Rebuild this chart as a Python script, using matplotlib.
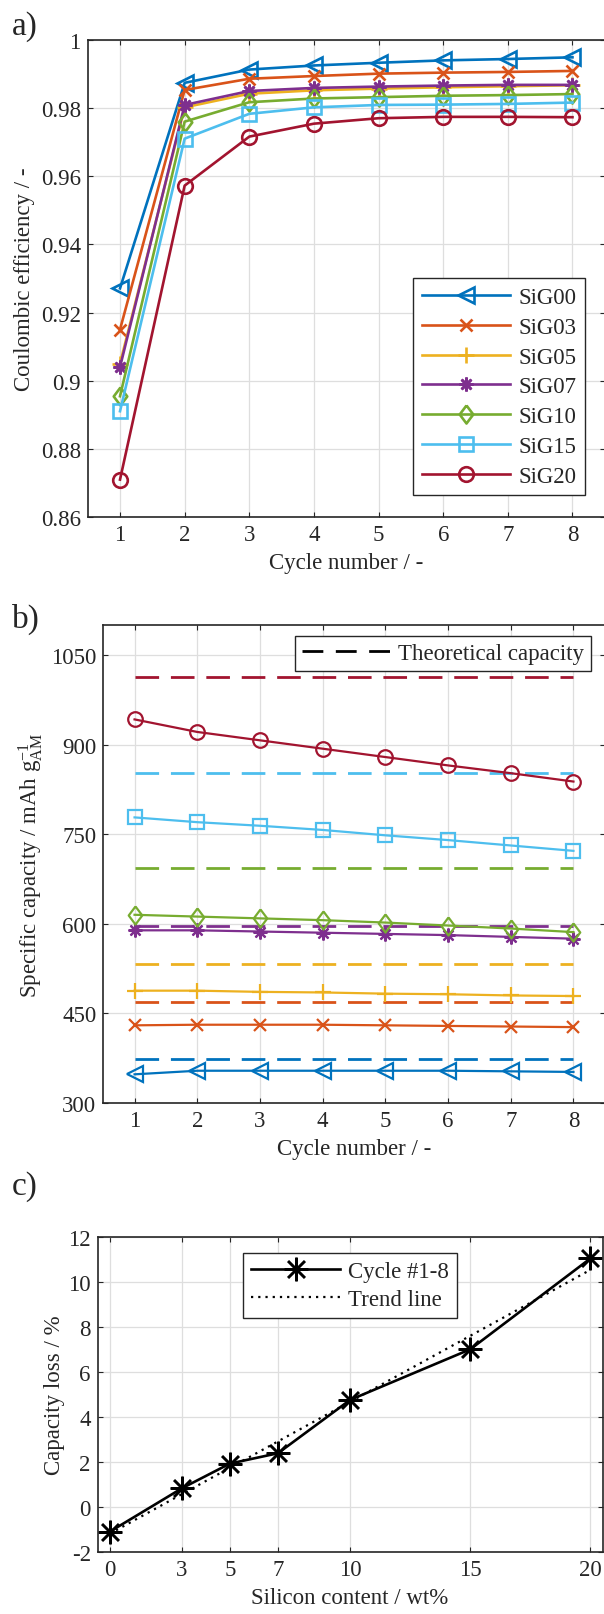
import numpy as np
import matplotlib
matplotlib.use("Agg")
import matplotlib.pyplot as plt

plt.rcParams["font.family"] = ["Liberation Serif", "DejaVu Serif"]
plt.rcParams["mathtext.fontset"] = "custom"
plt.rcParams["mathtext.rm"] = "Liberation Serif"
plt.rcParams["mathtext.it"] = "Liberation Serif:italic"
plt.rcParams["font.size"] = 16.5
plt.rcParams["text.color"] = "#262626"
plt.rcParams["axes.labelcolor"] = "#262626"
plt.rcParams["axes.unicode_minus"] = False
plt.rcParams["lines.scale_dashes"] = False

# data
cycles = [1, 2, 3, 4, 5, 6, 7, 8]
samples = ["SiG00", "SiG03", "SiG05", "SiG07", "SiG10", "SiG15", "SiG20"]

ce_sig00 = [0.9271, 0.9875, 0.9914, 0.9926, 0.9934, 0.9941, 0.9945, 0.9950]
ce_sig03 = [0.9150, 0.9854, 0.9887, 0.9895, 0.9902, 0.9905, 0.9907, 0.9910]
ce_sig05 = [0.9050, 0.9803, 0.9843, 0.9853, 0.9858, 0.9862, 0.9865, 0.9868]
ce_sig07 = [0.9040, 0.9810, 0.9851, 0.9860, 0.9864, 0.9867, 0.9869, 0.9869]
ce_sig10 = [0.8954, 0.9761, 0.9818, 0.9829, 0.9833, 0.9837, 0.9839, 0.9842]
ce_sig15 = [0.8910, 0.9711, 0.9784, 0.9803, 0.9810, 0.9811, 0.9813, 0.9817]
ce_sig20 = [0.8709, 0.9573, 0.9717, 0.9755, 0.9771, 0.9775, 0.9775, 0.9774]

cap_sig00 = [348, 354, 354, 354, 354, 354, 353, 352]
cap_sig03 = [430, 431, 431, 431, 430, 429, 428, 427]
cap_sig05 = [488, 488, 486, 485, 483, 482, 480, 479]
cap_sig07 = [589, 589, 587, 585, 583, 581, 578, 575]
cap_sig10 = [615, 612, 609, 606, 602, 597, 592, 586]
cap_sig15 = [778, 770, 764, 757, 748, 740, 731, 722]
cap_sig20 = [942, 921, 907, 893, 879, 865, 852, 838]
theo_cap = [373, 469, 533, 597, 693, 853, 1013]

si_content = [0, 3, 5, 7, 10, 15, 20]
cap_loss = [-1.10, 0.83, 1.93, 2.39, 4.76, 7.01, 11.05]

ce_all = [ce_sig00, ce_sig03, ce_sig05, ce_sig07, ce_sig10, ce_sig15, ce_sig20]
cap_all = [cap_sig00, cap_sig03, cap_sig05, cap_sig07, cap_sig10, cap_sig15, cap_sig20]

colors = ["#0072BD", "#D95319", "#EDB120", "#7E2F8E", "#77AC30", "#4DBEEE", "#A2142F"]
diamond = [(0, 1), (0.75, 0), (0, -1), (-0.75, 0), (0, 1)]
markers = ["<", "x", "+", (8, 2, 0), diamond, "s", "o"]
msizes = [11.5, 8.5, 12, 10, 13, 9.5, 10.5]

W, H = 604, 1615
fig = plt.figure(figsize=(W / 100, H / 100), dpi=100)


def px_axes(left, top, right, bottom):
    return fig.add_axes([left / W, 1 - bottom / H, (right - left) / W, (bottom - top) / H])


def style(ax):
    ax.grid(True, color="#dedede", lw=0.9)
    ax.set_axisbelow(True)
    for s in ax.spines.values():
        s.set_color("#262626")
        s.set_linewidth(1.2)
    ax.tick_params(direction="in", length=3.6, width=0.8, colors="#262626",
                   top=True, right=True, labelsize=16.5, pad=5)


def legend_style(leg):
    fr = leg.get_frame()
    fr.set_edgecolor("#262626")
    fr.set_linewidth(1.0)
    fr.set_boxstyle("square", pad=0)


# a)
ax1 = px_axes(87.7, 41.3, 604.8, 517.7)
style(ax1)
for name, vals, c, m, ms in zip(samples, ce_all, colors, markers, msizes):
    ax1.plot(cycles, vals, color=c, marker=m, ms=ms, mew=1.9, mfc="none", lw=1.9, label=name)
ax1.set_xlim(0.5, 8.5)
ax1.set_ylim(0.86, 1.0)
ax1.set_xticks(cycles)
ax1.set_yticks([0.86, 0.88, 0.90, 0.92, 0.94, 0.96, 0.98, 1.0])
ax1.set_yticklabels(["0.86", "0.88", "0.9", "0.92", "0.94", "0.96", "0.98", "1"])
ax1.set_xlabel("Cycle number / -", labelpad=5)
ax1.set_ylabel("Coulombic efficiency / -", labelpad=4)
leg1 = ax1.legend(loc="lower right", bbox_to_anchor=(0.962, 0.045), borderaxespad=0,
                  fancybox=False, framealpha=1, handlelength=3.85, handletextpad=0.35,
                  labelspacing=0.38, borderpad=0.38, fontsize=16.5)
legend_style(leg1)

# b)
ax2 = px_axes(103.2, 626, 604.8, 1104)
style(ax2)
for c, tc in zip(colors, theo_cap):
    ax2.plot([cycles[0], cycles[-1]], [tc, tc], color=c, lw=2.0, dashes=(17, 8.5))
for vals, c, m, ms in zip(cap_all, colors, markers, msizes):
    ax2.plot(cycles, vals, color=c, marker=m, ms=ms, mew=1.6, mfc="none", lw=1.6)
ax2.set_xlim(0.5, 8.5)
ax2.set_ylim(300, 1100)
ax2.set_xticks(cycles)
ax2.set_yticks([300, 450, 600, 750, 900, 1050])
ax2.set_xlabel("Cycle number / -", labelpad=5)
ax2.set_ylabel(r"Specific capacity / mAh g$_{\mathrm{AM}}^{-1}$", labelpad=4)
theo_handle = plt.Line2D([], [], color="black", lw=2.0, dashes=(15, 9))
leg2 = ax2.legend([theo_handle], ["Theoretical capacity"], loc="upper right",
                  bbox_to_anchor=(0.972, 0.976), borderaxespad=0, fancybox=False,
                  framealpha=1, handlelength=3.85, handletextpad=0.35, borderpad=0.3,
                  fontsize=16.5)
legend_style(leg2)

# c)
ax3 = px_axes(97.7, 1238, 602.5, 1553)
style(ax3)
ax3.plot(si_content, cap_loss, color="black", marker=(8, 2, 0), ms=17, mew=1.8, lw=1.9,
         label="Cycle #1-8")
k, d = np.polyfit(si_content, cap_loss, 1)
xs = np.array([si_content[0], si_content[-1]])
ax3.plot(xs, k * xs + d, color="black", lw=1.6, dashes=(1.6, 3.6), label="Trend line")
ax3.set_xlim(-0.5, 20.5)
ax3.set_ylim(-2, 12)
ax3.set_xticks(si_content)
ax3.set_yticks([-2, 0, 2, 4, 6, 8, 10, 12])
ax3.set_xlabel("Silicon content / wt%", labelpad=5)
ax3.set_ylabel("Capacity loss / %", labelpad=2)
leg3 = ax3.legend(loc="upper center", bbox_to_anchor=(0.5, 0.949), borderaxespad=0,
                  fancybox=False, framealpha=1, handlelength=3.9, handletextpad=0.35,
                  labelspacing=0.3, borderpad=0.35, fontsize=16.5)
legend_style(leg3)

# panel letters
for lbl, ybase in [("a)", 35), ("b)", 628), ("c)", 1195)]:
    fig.text(12 / W, 1 - ybase / H, lbl, fontsize=24, va="baseline", ha="left")

fig.savefig("out.png", dpi=100)
